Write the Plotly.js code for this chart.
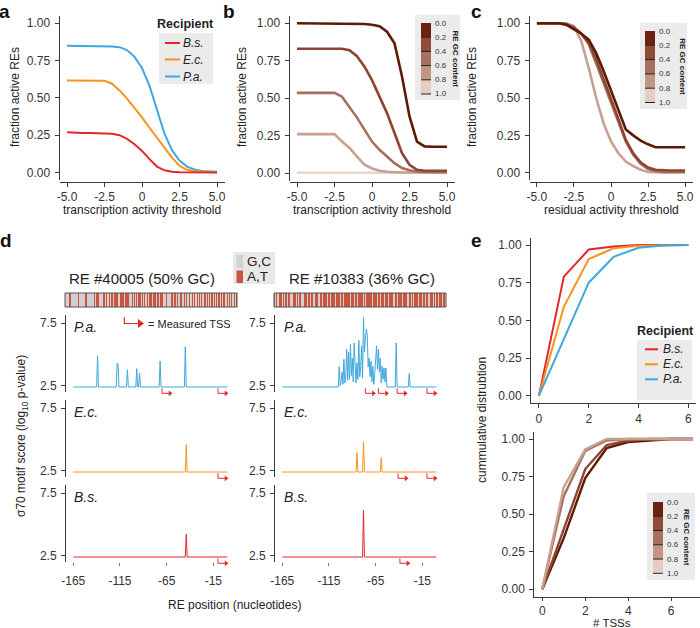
<!DOCTYPE html>
<html>
<head>
<meta charset="utf-8">
<script src="https://cdn.plot.ly/plotly-3.0.1.min.js"></script>
<style>
html,body{margin:0;padding:0;background:#ffffff;}
#chart{width:700px;height:628px;}
</style>
</head>
<body>
<div id="chart"></div>
<script>
// ================= DATA =================
// panels a-c: activity thresholds
const thresholds = [-5,-4.5,-4,-3.5,-3,-2.5,-2,-1.5,-1,-0.5,0,0.5,1,1.5,2,2.5,3,3.5,4,4.5,5];
const thresholdTicks = [-5,-2.5,0,2.5,5];
const thresholdTickText = ['-5.0','-2.5','0','2.5','5.0'];
const fractionTicks = [0,0.25,0.5,0.75,1];
const fractionTickText = ['0.00','0.25','0.50','0.75','1.00'];

const recipientNames = ['B.s.','E.c.','P.a.'];
const recipientColors = ['#e3262b','#f6921e','#3fa8dd'];

// panel a: fraction active REs per recipient
const activeBs = [0.27,0.265,0.265,0.265,0.265,0.265,0.26,0.25,0.225,0.19,0.145,0.09,0.04,0.015,0.005,0.002,0.001,0.001,0.001,0.001,0.001];
const activeEc = [0.617,0.617,0.617,0.617,0.617,0.615,0.595,0.55,0.495,0.434,0.37,0.30,0.236,0.17,0.10,0.045,0.018,0.008,0.004,0.003,0.002];
const activePa = [0.85,0.85,0.85,0.85,0.85,0.85,0.845,0.84,0.82,0.775,0.70,0.58,0.42,0.26,0.15,0.08,0.04,0.02,0.01,0.007,0.005];

// GC-content bins (0.0-0.2 ... 0.8-1.0)
const gcBinColors = ['#5f1a05','#8b4532','#a96f5d','#c8a091','#ebd6cc'];
const gcLegendColors = ['#6a230e','#8f4b38','#a8705f','#c39584','#e7cdc1'];
const gcLegendLabels = ['0.0','0.2','0.4','0.6','0.8','1.0'];

// panel b: fraction active REs per GC bin
const activeGc1 = [1,1,1,1,1,1,1,1,1,0.995,0.99,0.98,0.944,0.867,0.644,0.378,0.21,0.178,0.175,0.175,0.175];
const activeGc2 = [0.83,0.83,0.83,0.83,0.83,0.83,0.83,0.82,0.78,0.71,0.62,0.51,0.40,0.267,0.133,0.055,0.022,0.015,0.015,0.015,0.015];
const activeGc3 = [0.535,0.535,0.535,0.535,0.535,0.535,0.51,0.44,0.37,0.29,0.21,0.155,0.11,0.066,0.033,0.018,0.01,0.006,0.005,0.005,0.005];
const activeGc4 = [0.26,0.26,0.26,0.26,0.26,0.26,0.21,0.167,0.11,0.055,0.03,0.015,0.008,0.004,0.003,0.003,0.003,0.003,0.003,0.003,0.003];
const activeGc5 = [0.002,0.002,0.002,0.002,0.002,0.002,0.002,0.002,0.002,0.002,0.002,0.002,0.002,0.002,0.002,0.002,0.002,0.002,0.002,0.002,0.002];

// panel c: residual activity per GC bin
const residualGc1 = [1,1,1,1,0.99,0.96,0.93,0.89,0.80,0.68,0.55,0.42,0.29,0.25,0.215,0.19,0.17,0.17,0.17,0.17,0.17];
const residualGc2 = [1,1,1,1,0.99,0.97,0.93,0.87,0.76,0.63,0.50,0.36,0.22,0.13,0.07,0.035,0.02,0.015,0.015,0.015,0.015];
const residualGc3 = [1,1,1,1,0.995,0.975,0.93,0.86,0.73,0.60,0.47,0.34,0.21,0.12,0.06,0.025,0.01,0.006,0.005,0.005,0.005];
const residualGc4 = [1,1,1,1,1,0.98,0.88,0.70,0.50,0.33,0.21,0.13,0.075,0.045,0.02,0.005,0.002,0.002,0.002,0.002,0.002];

// panel e: cumulative distribution of # TSSs
const tssCountsRecipient = [0,1,2,3,4,5,6];
const cumBs = [0,0.79,0.97,0.99,1,1,1];
const cumEc = [0,0.59,0.907,0.978,0.995,1,1];
const cumPa = [0,0.37,0.75,0.922,0.982,0.997,1];
const tssCountsGc = [0,1,2,3,4,5,6,7];
const cumGc1 = [0,0.34,0.74,0.94,0.98,0.99,1,1];
const cumGc2 = [0,0.40,0.80,0.96,0.99,1,1,1];
const cumGc3 = [0,0.62,0.92,0.99,1,1,1,1];
const cumGc4 = [0,0.68,0.93,1,1,1,1,1];

// panel d: sigma70 motif scores (non-baseline positions only)
const motifBaseline = 2.38;
const leftPaPeakPos = [-139,-118,-117,-107,-97,-94,-72,-45];
const leftPaPeakScore = [4.9,4.3,4.15,3.75,3.85,3.5,4.45,5.6];
const leftEcPeakPos = [-44];
const leftEcPeakScore = [4.57];
const leftBsPeakPos = [-44];
const leftBsPeakScore = [4.2];
const rightPaPeakPos = [-104,-103,-102,-101,-100,-99,-98,-97,-96,-95,-94,-93,-92,-91,-90,-89,-88,-87,-86,-85,-84,-83,-82,-81,-80,-79,-78,-77,-76,-75,-74,-73,-72,-71,-70,-69,-68,-67,-66,-65,-64,-63,-62,-61,-60,-59,-58,-57,-56,-55,-54,-43,-29];
const rightPaPeakScore = [4.0,2.5,2.8,3.6,2.6,4.6,2.7,3.1,5.4,2.9,5.15,3.0,5.8,3.3,4.7,2.8,5.9,3.4,2.7,4.3,3.0,6.1,3.2,4.0,5.65,3.1,7.95,5.2,6.0,7.0,6.6,4.0,4.7,3.2,4.45,2.8,4.05,2.6,3.4,5.0,5.65,3.8,5.4,3.6,4.7,2.7,4.05,3.0,3.9,2.8,3.9,5.9,3.45];
const rightEcPeakPos = [-85,-78,-59];
const rightEcPeakScore = [3.93,4.79,3.53];
const rightBsPeakPos = [-78];
const rightBsPeakScore = [6.1];

// measured TSS positions
const tssLeftPa = [-70,-10];
const tssLeftEc = [-10];
const tssLeftBs = [-10];
const tssRightPa = [-76,-62,-42,-10];
const tssRightEc = [-41,-10];
const tssRightBs = [-39];

// RE sequences (S = G/C, W = A/T)
const seqLeft  = 'SSSSWWSSSSSSWSSSSSSWWSSSSSSSWSWWSSSSWWSWSSWSWWSWWWWSWWWWSWWWWSSSWSWSWSWWSWSWSSWSWWWSWWWSWWSWWSSSWSSSSWWSWWSWSSWWSWSWSSWSSWSWSSWSWSWSSWSWSWSWWSWSWSWWSWSWWSWSWSWSSWSW';
const seqRight = 'WSWSSWWSWSWWSWWSSWWWSWSWWSSWWWSWWSWWSWWWSSWWSWWWSWWSWWWWSWWWSWWSWWWWWSWWWSWWSWWWWSWSWWWWWSWWWWSWWSWWSWWWSWWWWSWWSWWWWSWWWSSWWSWSWWWSWWWSWWSWWSWWWSWSWWSWWSWWS';
const gcSwatchLabels = ['G,C','A,T'];
const gcSwatchColors = ['#d1d1d1','#c9553f'];

// ================= LAYOUT HELPERS =================
const F = '"Liberation Sans", Arial, Helvetica, sans-serif';
const W = 700, H = 628;
const px = x => x / W;
const py = y => 1 - y / H;
const TXT = '#222222', AXC = '#3a3a3a', TSS_RED = '#e8262a';

const layout = {
  width: W, height: H,
  margin: {l:0, r:0, t:0, b:0, pad:0},
  paper_bgcolor: '#ffffff', plot_bgcolor: 'rgba(0,0,0,0)',
  showlegend: false, hovermode: false,
  font: {family: F, size: 12, color: TXT},
  shapes: [], annotations: []
};
const baseAx = {
  showline: true, linecolor: AXC, linewidth: 1,
  ticks: 'outside', ticklen: 4, tickwidth: 1, tickcolor: AXC,
  showgrid: false, zeroline: false, fixedrange: true,
  tickfont: {family: F, size: 12, color: '#333'}
};
let nAx = 0;
function subplot(x0, x1, y0, y1, xo, yo) {
  nAx++;
  const s = nAx === 1 ? '' : String(nAx);
  layout['xaxis' + s] = Object.assign({}, baseAx, {domain: [px(x0), px(x1)], anchor: 'y' + s}, xo);
  layout['yaxis' + s] = Object.assign({}, baseAx, {domain: [py(y1), py(y0)], anchor: 'x' + s}, yo);
  return {xaxis: 'x' + s, yaxis: 'y' + s};
}
function rect(x0, y0, x1, y1, fill, lineOpt) {
  return {type:'rect', xref:'paper', yref:'paper', x0:px(x0), x1:px(x1), y0:py(y1), y1:py(y0),
          fillcolor: fill, line: lineOpt || {width:0}, layer:'above'};
}
function seg(x0, y0, x1, y1, color, width) {
  return {type:'line', xref:'paper', yref:'paper', x0:px(x0), x1:px(x1), y0:py(y0), y1:py(y1),
          line:{color:color, width:width}, layer:'above'};
}
function label(x, y, t, o) {
  o = o || {};
  return {xref:'paper', yref:'paper', x:px(x), y:py(y), text:t, showarrow:false,
          xanchor:o.anchor || 'center', yanchor:o.yanchor || 'middle', textangle:o.angle || 0,
          borderpad:0, font:{family:F, size:o.size || 12, color:o.color || TXT}};
}

// ================= SUBPLOTS =================
const fracY = {range:[-0.05,1.05], tickvals:fractionTicks, ticktext:fractionTickText, ticklabelstandoff:2};
const thrX = {range:[-5.5,5.5], tickvals:thresholdTicks, ticktext:thresholdTickText, ticklabelstandoff:0,
              anchor:'free', position:py(181.7)};

const A = subplot(59.5, 224.5, 15.8, 180.0, thrX, fracY);
const B = subplot(289.5, 454.5, 15.8, 180.5, thrX, fracY);
const C = subplot(529.5, 692.5, 15.8, 180.2, thrX, fracY);

const dRange = [-172.8, 9.3];
const dX = {range:dRange, showline:false, ticks:'', showticklabels:false};
const dXb = {range:dRange, showline:false, ticks:'outside', ticklen:3, tickcolor:'#777',
             tickvals:[-165,-115,-65,-15], ticktext:['-165','-115','-65','-15'], ticklabelstandoff:5};
const dY = {range:[1.98, 8.14], tickvals:[2.5,7.5], ticktext:['2.5','7.5'], ticklabelstandoff:2};
const DL = [], DR = [], AL = [], AR = [];
for (let k = 0; k < 3; k++) DL.push(subplot(66, 236, 315 + 85*k, 392 + 85*k, k === 2 ? dXb : dX, dY));
for (let k = 0; k < 3; k++) DR.push(subplot(275, 445, 315 + 85*k, 392 + 85*k, k === 2 ? dXb : dX, dY));
// overlay strips (same x scale) holding the TSS arrow glyphs just under each baseline
const arrowY = {visible:false, range:[12, 0]};
for (let k = 0; k < 3; k++) AL.push(subplot(66, 236, 386 + 85*k, 398 + 85*k, {visible:false, range:dRange}, arrowY));
for (let k = 0; k < 3; k++) AR.push(subplot(275, 445, 386 + 85*k, 398 + 85*k, {visible:false, range:dRange}, arrowY));
const KEY = subplot(118, 148, 314, 328, {visible:false, range:[0, 30]}, {visible:false, range:[14, 0]});

const SL = subplot(65, 237, 293, 307, {visible:false, range:[-0.5, seqLeft.length - 0.5]}, {visible:false, range:[-0.5,0.5]});
const SR = subplot(274, 446, 293, 307, {visible:false, range:[-0.5, seqRight.length - 0.5]}, {visible:false, range:[-0.5,0.5]});

const eX = {tickvals:[0,2,4,6], ticklabelstandoff:0};
const ET = subplot(531, 696, 237.5, 403.2, Object.assign({range:[-0.32,6.31]}, eX), fracY);
const EB = subplot(534.3, 700, 431.5, 596.8, Object.assign({range:[-0.37,7.34], ticklen:3}, eX), fracY);

// ================= TRACES =================
const traces = [];
function line(sp, x, y, color, width) {
  traces.push({type:'scatter', mode:'lines', x:x, y:y, xaxis:sp.xaxis, yaxis:sp.yaxis,
               line:{color:color, width:width}, hoverinfo:'skip'});
}
// a
line(A, thresholds, activePa, recipientColors[2], 2);
line(A, thresholds, activeEc, recipientColors[1], 2);
line(A, thresholds, activeBs, recipientColors[0], 2);
// b
[activeGc5, activeGc4, activeGc3, activeGc2, activeGc1].forEach((s, i) => line(B, thresholds, s, gcBinColors[4 - i], 2.6));
// c
[residualGc4, residualGc3, residualGc2, residualGc1].forEach((s, i) => line(C, thresholds, s, gcBinColors[3 - i], 2.6));
// e
line(ET, tssCountsRecipient, cumBs, recipientColors[0], 2);
line(ET, tssCountsRecipient, cumEc, recipientColors[1], 2);
line(ET, tssCountsRecipient, cumPa, recipientColors[2], 2);
line(EB, tssCountsGc, cumGc1, gcBinColors[0], 2.4);
line(EB, tssCountsGc, cumGc2, gcBinColors[1], 2.4);
line(EB, tssCountsGc, cumGc3, gcBinColors[2], 2.4);
line(EB, tssCountsGc, cumGc4, gcBinColors[3], 2.4);

// d: motif score profiles
const positions = [];
for (let p = -165; p <= 0; p++) positions.push(p);
function motifSeries(pos, score) {
  const m = new Map(pos.map((p, i) => [p, score[i]]));
  return positions.map(p => (m.has(p) ? m.get(p) : motifBaseline));
}
line(DL[0], positions, motifSeries(leftPaPeakPos, leftPaPeakScore), recipientColors[2], 1);
line(DL[1], positions, motifSeries(leftEcPeakPos, leftEcPeakScore), recipientColors[1], 1);
line(DL[2], positions, motifSeries(leftBsPeakPos, leftBsPeakScore), recipientColors[0], 1);
line(DR[0], positions, motifSeries(rightPaPeakPos, rightPaPeakScore), recipientColors[2], 1);
line(DR[1], positions, motifSeries(rightEcPeakPos, rightEcPeakScore), recipientColors[1], 1);
line(DR[2], positions, motifSeries(rightBsPeakPos, rightBsPeakScore), recipientColors[0], 1);

// d: TSS bent-arrow glyphs (position from data, glyph size fixed)
function tssGlyphs(sp, list, stemLen, armLen, headSize, lw) {
  const xs = [], ys = [], hx = [], hy = [];
  list.forEach(t => {
    xs.push(t, t, t + armLen, null);
    ys.push(2.3, 2.3 + stemLen, 2.3 + stemLen, null);
    hx.push(t + armLen + 0.6);
    hy.push(2.3 + stemLen);
  });
  traces.push({type:'scatter', mode:'lines', x:xs, y:ys, xaxis:sp.xaxis, yaxis:sp.yaxis,
               line:{color:TSS_RED, width:lw}, hoverinfo:'skip', cliponaxis:false});
  traces.push({type:'scatter', mode:'markers', x:hx, y:hy, xaxis:sp.xaxis, yaxis:sp.yaxis, cliponaxis:false,
               marker:{symbol:'triangle-right', size:headSize, color:TSS_RED, line:{width:0}}, hoverinfo:'skip'});
}
tssGlyphs(AL[0], tssLeftPa, 5, 8, 5, 1);
tssGlyphs(AL[1], tssLeftEc, 5, 8, 5, 1);
tssGlyphs(AL[2], tssLeftBs, 5, 8, 5, 1);
tssGlyphs(AR[0], tssRightPa, 5, 8, 5, 1);
tssGlyphs(AR[1], tssRightEc, 5, 8, 5, 1);
tssGlyphs(AR[2], tssRightBs, 5, 8, 5, 1);
// key glyph
traces.push({type:'scatter', mode:'lines', x:[6.3, 6.3, 21], y:[3.3, 9.5, 9.5], xaxis:KEY.xaxis, yaxis:KEY.yaxis,
             line:{color:TSS_RED, width:1.2}, hoverinfo:'skip', cliponaxis:false});
traces.push({type:'scatter', mode:'markers', x:[22], y:[9.5], xaxis:KEY.xaxis, yaxis:KEY.yaxis, cliponaxis:false,
             marker:{symbol:'triangle-right', size:8, color:TSS_RED}, hoverinfo:'skip'});

// d: sequence bars
function seqBar(sp, seq) {
  traces.push({type:'heatmap', xaxis:sp.xaxis, yaxis:sp.yaxis,
    z:[Array.from(seq).map(c => (c === 'S' ? 0 : 1))],
    zmin:0, zmax:1, showscale:false, hoverinfo:'skip',
    colorscale:[[0,gcSwatchColors[0]],[0.5,gcSwatchColors[0]],[0.5,gcSwatchColors[1]],[1,gcSwatchColors[1]]]});
}
seqBar(SL, seqLeft);
seqBar(SR, seqRight);
layout.shapes.push(rect(65, 293, 237, 307, 'rgba(0,0,0,0)', {color:'#555', width:1}));
layout.shapes.push(rect(274, 293, 446, 307, 'rgba(0,0,0,0)', {color:'#555', width:1}));

// ================= ANNOTATIONS / LEGENDS =================
const ann = layout.annotations, shp = layout.shapes;
// panel letters
[['a',4,11],['b',229,11],['c',477,11],['d',6,241],['e',477,241]].forEach(l =>
  ann.push(label(l[1], l[2], '<b>' + l[0] + '</b>', {size:19, color:'#111'})));
// axis titles a-c
ann.push(label(15, 97, 'fraction active REs', {angle:-90}));
ann.push(label(242, 97, 'fraction active REs', {angle:-90}));
ann.push(label(472, 97, 'fraction active REs', {angle:-90}));
ann.push(label(142, 210, 'transcription activity threshold'));
ann.push(label(372, 210, 'transcription activity threshold'));
ann.push(label(611, 210, 'residual activity threshold'));
// panel d texts
ann.push(label(142, 278, 'RE #40005 (50% GC)', {size:15}));
ann.push(label(362, 278, 'RE #10383 (36% GC)', {size:15}));
ann.push(label(22, 436, '\u03c370 motif score (log<sub>10</sub> p-value)', {angle:-90}));
ann.push(label(235, 605, 'RE position (nucleotides)'));
['P.a.','E.c.','B.s.'].forEach((nm, k) => {
  ann.push(label(73, 327 + 85*k, '<i>' + nm + '</i>', {anchor:'left', size:14}));
  ann.push(label(283, 327 + 85*k, '<i>' + nm + '</i>', {anchor:'left', size:14}));
});
ann.push(label(147, 323.5, '= Measured TSS', {anchor:'left', size:11}));
// G,C / A,T key
shp.push(rect(233, 252, 275, 284, '#e8e8e8'));
shp.push(rect(236.5, 255, 243, 268, gcSwatchColors[0]));
shp.push(rect(236.5, 270.5, 243, 283, gcSwatchColors[1]));
ann.push(label(246, 261, gcSwatchLabels[0], {anchor:'left', size:13.5}));
ann.push(label(246, 276.5, gcSwatchLabels[1], {anchor:'left', size:13.5}));
// e axis titles
ann.push(label(482, 420, 'cummulative distrubtion', {angle:-90}));
ann.push(label(612, 622.5, '# TSSs', {size:11.5}));

// recipient legends
function recipientLegend(tx, ty, bx0, by0, bx1, by1, lx0, lx1, ys, labX) {
  shp.push(rect(bx0, by0, bx1, by1, '#ebebeb'));
  ann.push(label(tx, ty, '<b>Recipient</b>', {size:12.5}));
  recipientNames.forEach((nm, i) => {
    shp.push(seg(lx0, ys[i], lx1, ys[i], recipientColors[i], 2));
    ann.push(label(labX, ys[i], '<i>' + nm + '</i>', {anchor:'left', size:12}));
  });
}
recipientLegend(185, 24.3, 159, 33, 213, 84, 165, 180, [43, 59.5, 76.5], 182);
recipientLegend(665, 330.7, 637, 340, 692, 400, 645, 658, [349.3, 364.3, 379.3], 661.5);

// GC content step legends
function gcLegend(bx0, by0, bx1, by1, cx0, cx1, ty0, ty1, labX, titleX) {
  shp.push(rect(bx0, by0, bx1, by1, '#ebebeb'));
  const n = gcLegendColors.length, h = (ty1 - ty0) / n;
  gcLegendColors.forEach((c, i) => shp.push(rect(cx0, ty0 + i*h, cx1, ty0 + (i+1)*h, c)));
  for (let i = 1; i <= n; i++) shp.push(seg(cx0, ty0 + i*h, cx1, ty0 + i*h, '#222', 1));
  gcLegendLabels.forEach((lab, i) => ann.push(label(labX, ty0 + i*h, lab, {anchor:'left', size:8, color:'#333'})));
  ann.push(label(titleX, (ty0 + ty1) / 2, '<b>RE GC content</b>', {angle:90, size:8}));
}
gcLegend(415, 15, 460, 100, 421, 431, 23, 94, 434, 455);
gcLegend(640, 23, 687, 109, 645, 655, 31, 102.5, 658, 682.5);
gcLegend(647, 493, 695, 580, 653, 663, 502, 573.3, 666, 686.7);

Plotly.newPlot('chart', traces, layout, {staticPlot:true, displayModeBar:false});
</script>
</body>
</html>
